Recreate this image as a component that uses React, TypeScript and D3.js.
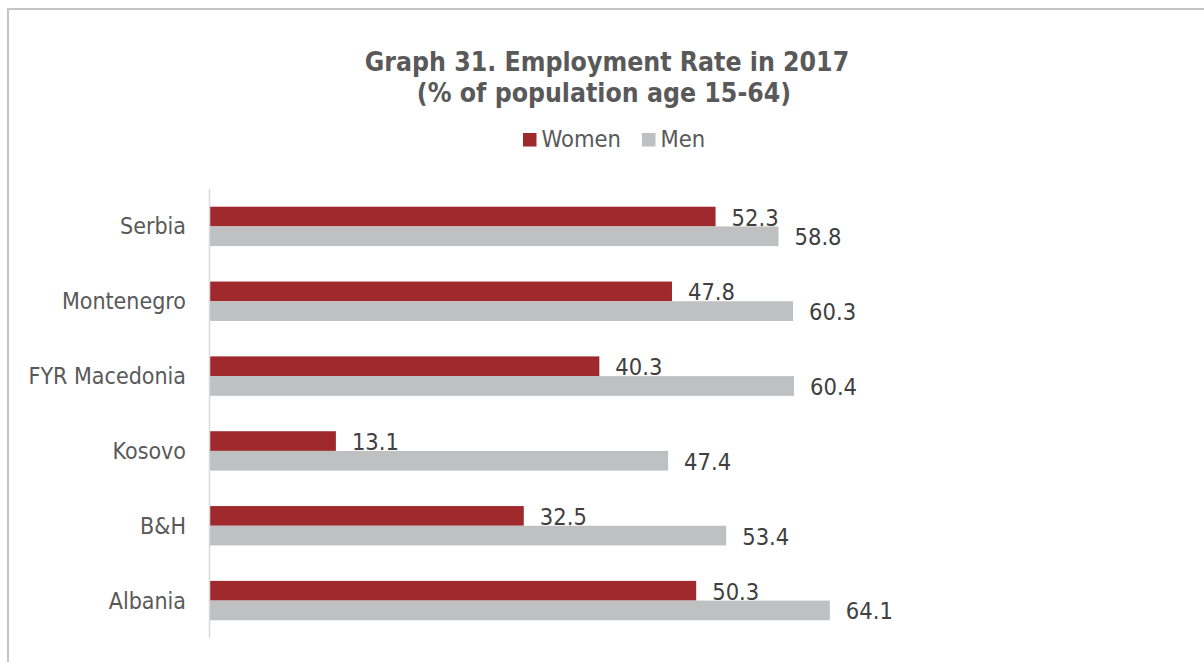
import React from "react";
import * as d3 from "d3";

const categories = ["Serbia", "Montenegro", "FYR Macedonia", "Kosovo", "B&H", "Albania"];
const women = [52.3, 47.8, 40.3, 13.1, 32.5, 50.3];
const men = [58.8, 60.3, 60.4, 47.4, 53.4, 64.1];
const seriesNames = ["Women", "Men"];
const seriesColors = ["#A0292E", "#BFC0C2"];
const titleLines = ["Graph 31. Employment Rate in 2017", "(% of population age 15-64)"];

const W = 1204;
const H = 662;
const FONT = "'DejaVu Sans Condensed', 'DejaVu Sans', sans-serif";
const TEXT = "#595959";
const LABEL = "#404040";

export default function App() {
  const x = d3.scaleLinear().domain([0, 70]).range([209, 209 + 678]);
  const y = d3.scaleBand<string>().domain(categories).range([189, 638]).paddingInner(0.4735).paddingOuter(0.23675);
  const inner = d3.scaleBand<string>().domain(seriesNames).range([0, y.bandwidth()]);
  const series = [women, men];

  return (
    <svg width={W} height={H} style={{ position: "absolute", left: 0, top: 0, background: "#fff" }} fontFamily={FONT}>
      <rect x={8} y={9} width={1300} height={800} fill="#fff" stroke="#C4C4C4" strokeWidth={2} />
      <g fill={TEXT} fontWeight="bold" fontSize={26.4} textAnchor="middle" style={{ fontStretch: "condensed" }}>
        <text x={607} y={70.5}>{titleLines[0]}</text>
        <text x={604} y={102}>{titleLines[1]}</text>
      </g>
      <g>
        {seriesNames.map((s, i) => {
          const lx = [523, 642][i];
          return (
            <g key={s}>
              <rect x={lx} y={133} width={13.5} height={13.5} fill={seriesColors[i]} />
              <text x={lx + 18.5} y={146.5} fontSize={23.5} fill={TEXT} style={{ fontStretch: "condensed" }}>{s}</text>
            </g>
          );
        })}
      </g>
      {categories.map((c, ci) => (
        <g key={c}>
          <text x={186} y={(y(c) as number) + y.bandwidth() / 2 + 8} fontSize={23} fill={TEXT} textAnchor="end" style={{ fontStretch: "condensed" }}>{c}</text>
          {series.map((vals, si) => {
            const by = (y(c) as number) + (inner(seriesNames[si]) as number);
            const bh = inner.bandwidth();
            return (
              <g key={si}>
                <rect x={x(0)} y={by} width={x(vals[ci]) - x(0)} height={bh} fill={seriesColors[si]} />
                <text x={x(vals[ci]) + 16} y={by + bh / 2 + 9} fontSize={23.5} fill={LABEL} style={{ fontStretch: "condensed" }}>{vals[ci].toFixed(1)}</text>
              </g>
            );
          })}
        </g>
      ))}
      <line x1={209.5} x2={209.5} y1={189} y2={638} stroke="#D9D9D9" strokeWidth={1.5} />
    </svg>
  );
}
